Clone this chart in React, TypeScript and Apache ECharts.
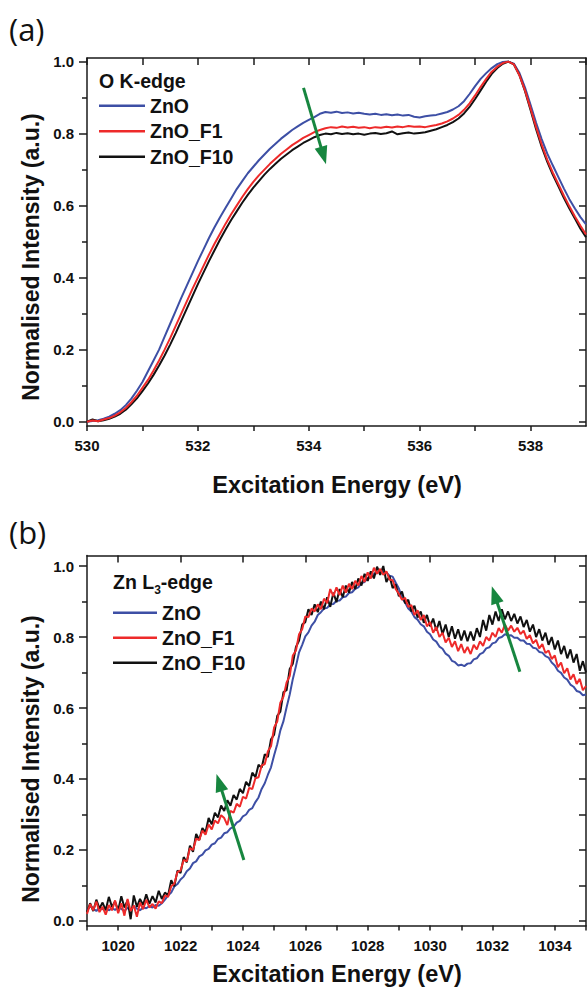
import React, { useEffect, useRef } from "react";
import * as echarts from "echarts";

// ---------- Panel (a): O K-edge ----------
const oEnergy = [
  530.0, 530.1, 530.2, 530.3, 530.4, 530.5, 530.6, 530.7, 530.8, 530.9,
  531.0, 531.1, 531.2, 531.3, 531.4, 531.5, 531.6, 531.7, 531.8, 531.9,
  532.0, 532.1, 532.2, 532.3, 532.4, 532.5, 532.6, 532.7, 532.8, 532.9,
  533.0, 533.1, 533.2, 533.3, 533.4, 533.5, 533.6, 533.7, 533.8, 533.9,
  534.0, 534.1, 534.2, 534.3, 534.4, 534.5, 534.6, 534.7, 534.8, 534.9,
  535.0, 535.1, 535.2, 535.3, 535.4, 535.5, 535.6, 535.7, 535.8, 535.9,
  536.0, 536.1, 536.2, 536.3, 536.4, 536.5, 536.6, 536.7, 536.8, 536.9,
  537.0, 537.1, 537.2, 537.3, 537.4, 537.5, 537.6, 537.7, 537.8, 537.9,
  538.0, 538.1, 538.2, 538.3, 538.4, 538.5, 538.6, 538.7, 538.8, 538.9,
  539.0,
];
const oZnO = [
  0.000, 0.002, 0.004, 0.008, 0.014, 0.022, 0.032, 0.046, 0.064, 0.086,
  0.110, 0.140, 0.170, 0.200, 0.236, 0.272, 0.308, 0.344, 0.378, 0.412,
  0.446, 0.478, 0.510, 0.540, 0.568, 0.594, 0.620, 0.646, 0.668, 0.690,
  0.708, 0.726, 0.742, 0.758, 0.772, 0.786, 0.798, 0.810, 0.820, 0.830,
  0.838, 0.846, 0.855, 0.860, 0.858, 0.861, 0.857, 0.859, 0.856, 0.858,
  0.855, 0.853, 0.855, 0.852, 0.854, 0.851, 0.853, 0.850, 0.852, 0.847,
  0.845, 0.848, 0.850, 0.852, 0.856, 0.860, 0.867, 0.876, 0.890, 0.910,
  0.932, 0.952, 0.968, 0.982, 0.993, 0.999, 1.000, 0.994, 0.968, 0.928,
  0.880, 0.830, 0.785, 0.745, 0.712, 0.680, 0.648, 0.618, 0.592, 0.568,
  0.548,
];
const oF1 = [
  0.000, 0.003, 0.001, 0.006, 0.010, 0.017, 0.026, 0.038, 0.054, 0.072,
  0.094, 0.116, 0.142, 0.170, 0.200, 0.232, 0.266, 0.300, 0.334, 0.368,
  0.400, 0.432, 0.464, 0.494, 0.522, 0.550, 0.576, 0.600, 0.624, 0.646,
  0.666, 0.684, 0.700, 0.716, 0.730, 0.744, 0.756, 0.768, 0.778, 0.788,
  0.796, 0.804, 0.810, 0.815, 0.818, 0.816, 0.820, 0.817, 0.819, 0.816,
  0.818, 0.815, 0.818, 0.816, 0.819, 0.817, 0.820, 0.818, 0.821, 0.819,
  0.820, 0.818, 0.821, 0.824, 0.828, 0.834, 0.842, 0.852, 0.866, 0.884,
  0.906, 0.930, 0.952, 0.972, 0.986, 0.996, 1.000, 0.992, 0.962, 0.920,
  0.870, 0.818, 0.770, 0.728, 0.692, 0.660, 0.628, 0.598, 0.570, 0.544,
  0.520,
];
const oF10 = [
  0.000, 0.006, 0.001, 0.004, 0.008, 0.014, 0.022, 0.033, 0.048, 0.065,
  0.085, 0.106, 0.130, 0.156, 0.184, 0.214, 0.246, 0.280, 0.314, 0.348,
  0.382, 0.414, 0.446, 0.476, 0.506, 0.534, 0.560, 0.584, 0.608, 0.630,
  0.650, 0.668, 0.686, 0.702, 0.716, 0.730, 0.742, 0.754, 0.764, 0.774,
  0.782, 0.790, 0.796, 0.800, 0.798, 0.802, 0.799, 0.801, 0.798, 0.800,
  0.797, 0.800, 0.802, 0.799, 0.801, 0.806, 0.798, 0.801, 0.803, 0.800,
  0.802, 0.804, 0.808, 0.812, 0.818, 0.824, 0.832, 0.842, 0.856, 0.874,
  0.896, 0.920, 0.944, 0.966, 0.982, 0.994, 1.000, 0.992, 0.962, 0.918,
  0.866, 0.812, 0.764, 0.722, 0.686, 0.654, 0.622, 0.592, 0.564, 0.536,
  0.512,
];

// ---------- Panel (b): Zn L3-edge ----------
const znEnergy = [
  1019.0, 1019.1, 1019.2, 1019.3, 1019.4, 1019.5, 1019.6, 1019.7, 1019.8, 1019.9,
  1020.0, 1020.1, 1020.2, 1020.3, 1020.4, 1020.5, 1020.6, 1020.7, 1020.8, 1020.9,
  1021.0, 1021.1, 1021.2, 1021.3, 1021.4, 1021.5, 1021.6, 1021.7, 1021.8, 1021.9,
  1022.0, 1022.1, 1022.2, 1022.3, 1022.4, 1022.5, 1022.6, 1022.7, 1022.8, 1022.9,
  1023.0, 1023.1, 1023.2, 1023.3, 1023.4, 1023.5, 1023.6, 1023.7, 1023.8, 1023.9,
  1024.0, 1024.1, 1024.2, 1024.3, 1024.4, 1024.5, 1024.6, 1024.7, 1024.8, 1024.9,
  1025.0, 1025.1, 1025.2, 1025.3, 1025.4, 1025.5, 1025.6, 1025.7, 1025.8, 1025.9,
  1026.0, 1026.1, 1026.2, 1026.3, 1026.4, 1026.5, 1026.6, 1026.7, 1026.8, 1026.9,
  1027.0, 1027.1, 1027.2, 1027.3, 1027.4, 1027.5, 1027.6, 1027.7, 1027.8, 1027.9,
  1028.0, 1028.1, 1028.2, 1028.3, 1028.4, 1028.5, 1028.6, 1028.7, 1028.8, 1028.9,
  1029.0, 1029.1, 1029.2, 1029.3, 1029.4, 1029.5, 1029.6, 1029.7, 1029.8, 1029.9,
  1030.0, 1030.1, 1030.2, 1030.3, 1030.4, 1030.5, 1030.6, 1030.7, 1030.8, 1030.9,
  1031.0, 1031.1, 1031.2, 1031.3, 1031.4, 1031.5, 1031.6, 1031.7, 1031.8, 1031.9,
  1032.0, 1032.1, 1032.2, 1032.3, 1032.4, 1032.5, 1032.6, 1032.7, 1032.8, 1032.9,
  1033.0, 1033.1, 1033.2, 1033.3, 1033.4, 1033.5, 1033.6, 1033.7, 1033.8, 1033.9,
  1034.0, 1034.1, 1034.2, 1034.3, 1034.4, 1034.5, 1034.6, 1034.7, 1034.8, 1034.9,
  1035.0,
];
const znZnO = [
  0.030, 0.042, 0.035, 0.028, 0.040, 0.033, 0.038, 0.030, 0.036, 0.031,
  0.039, 0.034, 0.028, 0.037, 0.032, 0.041, 0.035, 0.030, 0.038, 0.036,
  0.042, 0.038, 0.045, 0.043, 0.050, 0.060, 0.072, 0.080, 0.097, 0.104,
  0.117, 0.125, 0.140, 0.148, 0.163, 0.168, 0.182, 0.187, 0.199, 0.203,
  0.215, 0.219, 0.231, 0.235, 0.247, 0.250, 0.261, 0.265, 0.277, 0.282,
  0.295, 0.300, 0.313, 0.318, 0.335, 0.348, 0.372, 0.388, 0.412, 0.433,
  0.467, 0.498, 0.537, 0.563, 0.602, 0.638, 0.682, 0.718, 0.757, 0.778,
  0.802, 0.813, 0.832, 0.843, 0.862, 0.870, 0.880, 0.882, 0.892, 0.893,
  0.902, 0.903, 0.912, 0.914, 0.924, 0.926, 0.936, 0.940, 0.952, 0.955,
  0.966, 0.968, 0.978, 0.980, 0.989, 0.983, 0.982, 0.973, 0.970, 0.953,
  0.937, 0.910, 0.897, 0.880, 0.872, 0.856, 0.849, 0.836, 0.830, 0.815,
  0.808, 0.793, 0.787, 0.773, 0.767, 0.753, 0.747, 0.733, 0.729, 0.720,
  0.722, 0.718, 0.725, 0.726, 0.737, 0.740, 0.752, 0.756, 0.768, 0.771,
  0.782, 0.785, 0.797, 0.800, 0.808, 0.804, 0.805, 0.798, 0.798, 0.790,
  0.790, 0.781, 0.780, 0.770, 0.768, 0.758, 0.756, 0.746, 0.742, 0.728,
  0.720, 0.705, 0.699, 0.686, 0.680, 0.666, 0.660, 0.648, 0.645, 0.636,
  0.638,
];
const znF1 = [
  0.020, 0.048, 0.030, 0.055, 0.025, 0.040, 0.018, 0.045, 0.030, 0.058,
  0.022, 0.050, 0.015, 0.062, 0.028, 0.044, 0.012, 0.052, 0.033, 0.060,
  0.038, 0.048, 0.035, 0.055, 0.050, 0.072, 0.068, 0.098, 0.105, 0.138,
  0.142, 0.172, 0.168, 0.205, 0.200, 0.232, 0.228, 0.255, 0.243, 0.272,
  0.258, 0.283, 0.275, 0.298, 0.290, 0.270, 0.310, 0.305, 0.330, 0.322,
  0.350, 0.345, 0.375, 0.372, 0.402, 0.405, 0.438, 0.442, 0.478, 0.492,
  0.545, 0.562, 0.615, 0.632, 0.672, 0.690, 0.748, 0.762, 0.808, 0.822,
  0.858, 0.856, 0.880, 0.872, 0.892, 0.878, 0.908, 0.895, 0.935, 0.915,
  0.940, 0.918, 0.945, 0.925, 0.950, 0.935, 0.958, 0.945, 0.972, 0.955,
  0.982, 0.965, 0.995, 0.978, 0.992, 0.975, 0.985, 0.962, 0.960, 0.935,
  0.922, 0.905, 0.910, 0.885, 0.890, 0.862, 0.875, 0.848, 0.862, 0.830,
  0.842, 0.812, 0.828, 0.800, 0.812, 0.785, 0.798, 0.772, 0.788, 0.760,
  0.780, 0.755, 0.772, 0.752, 0.778, 0.765, 0.788, 0.775, 0.800, 0.790,
  0.812, 0.800, 0.825, 0.812, 0.835, 0.818, 0.832, 0.815, 0.826, 0.808,
  0.818, 0.795, 0.805, 0.782, 0.792, 0.768, 0.780, 0.755, 0.762, 0.738,
  0.748, 0.715, 0.728, 0.698, 0.712, 0.680, 0.695, 0.668, 0.682, 0.650,
  0.662,
];
const znF10 = [
  0.025, 0.050, 0.028, 0.060, 0.035, 0.052, 0.030, 0.068, 0.040, 0.055,
  0.030, 0.070, 0.038, 0.058, 0.005, 0.072, 0.040, 0.062, 0.045, 0.075,
  0.048, 0.070, 0.052, 0.085, 0.062, 0.080, 0.072, 0.115, 0.098, 0.142,
  0.135, 0.180, 0.165, 0.212, 0.195, 0.245, 0.228, 0.262, 0.250, 0.290,
  0.272, 0.305, 0.292, 0.325, 0.310, 0.340, 0.325, 0.355, 0.342, 0.372,
  0.360, 0.392, 0.380, 0.418, 0.405, 0.440, 0.432, 0.470, 0.462, 0.512,
  0.525, 0.578, 0.590, 0.645, 0.650, 0.710, 0.725, 0.772, 0.790, 0.835,
  0.842, 0.878, 0.862, 0.892, 0.870, 0.900, 0.878, 0.912, 0.885, 0.925,
  0.898, 0.935, 0.912, 0.945, 0.925, 0.955, 0.935, 0.965, 0.945, 0.978,
  0.958, 0.985, 0.965, 0.998, 0.975, 1.000, 0.955, 0.972, 0.938, 0.948,
  0.915, 0.928, 0.895, 0.905, 0.872, 0.888, 0.855, 0.872, 0.840, 0.862,
  0.830, 0.852, 0.818, 0.845, 0.808, 0.835, 0.800, 0.830, 0.795, 0.822,
  0.790, 0.818, 0.788, 0.815, 0.790, 0.825, 0.800, 0.848, 0.818, 0.862,
  0.835, 0.872, 0.845, 0.878, 0.850, 0.872, 0.845, 0.865, 0.838, 0.858,
  0.828, 0.848, 0.815, 0.835, 0.800, 0.822, 0.790, 0.812, 0.778, 0.800,
  0.765, 0.790, 0.752, 0.775, 0.740, 0.765, 0.728, 0.752, 0.705, 0.732,
  0.700,
];

// ---------- ticks / labels ----------
const oXTicks = [530, 531, 532, 533, 534, 535, 536, 537, 538];
const oXLabels = [530, 532, 534, 536, 538];
const oXTopTicks = [530, 531, 532, 533, 534, 535, 536, 537, 538, 539];
const znXTicks = [1019, 1020, 1021, 1022, 1023, 1024, 1025, 1026, 1027, 1028, 1029, 1030, 1031, 1032, 1033, 1034, 1035];
const znXLabels = [1020, 1022, 1024, 1026, 1028, 1030, 1032, 1034];
const znXTopTicks = [1020, 1022, 1024, 1026, 1028, 1030, 1032, 1034];
const yMajor = [0, 0.2, 0.4, 0.6, 0.8, 1.0];
const yMinor = [0.1, 0.3, 0.5, 0.7, 0.9];
const yAll = [0, 0.1, 0.2, 0.3, 0.4, 0.5, 0.6, 0.7, 0.8, 0.9, 1.0];

const seriesNames = ["ZnO", "ZnO_F1", "ZnO_F10"];
const seriesColors = ["#3d4fa5", "#ee2a2a", "#111111"];

// arrows: [tail, head] in data coordinates
const oArrows = [[[533.905, 0.927], [534.265, 0.739]]];
const znArrows = [
  [[1024.03, 0.172], [1023.24, 0.39]],
  [[1032.88, 0.702], [1032.07, 0.919]],
];

const FONT = "'Liberation Sans', Arial, Helvetica, sans-serif";
const AXIS_COLOR = "#1a1a1a";
const ARROW_COLOR = "#17863f";

function xAxesFor(grid: number, min: number, max: number, ticks: number[], labels: number[], topTicks: number[]) {
  return [
    {
      type: "value", gridIndex: grid, position: "bottom", min, max,
      axisLine: { show: true, onZero: false, lineStyle: { color: AXIS_COLOR, width: 1.5 } },
      axisTick: { show: true, inside: false, length: 5, customValues: ticks, lineStyle: { color: AXIS_COLOR, width: 1.5 } },
      axisLabel: {
        show: true, customValues: labels, margin: 12, color: "#111", fontFamily: FONT, fontWeight: "bold", fontSize: 15,
        formatter: (v: number) => String(v),
      },
      splitLine: { show: false },
    },
    {
      type: "value", gridIndex: grid, position: "top", min, max,
      axisLine: { show: true, onZero: false, lineStyle: { color: AXIS_COLOR, width: 1.5 } },
      axisTick: { show: true, inside: true, length: 7, customValues: topTicks, lineStyle: { color: AXIS_COLOR, width: 1.5 } },
      axisLabel: { show: false },
      splitLine: { show: false },
    },
  ];
}

function yAxesFor(grid: number, min: number, max: number) {
  return [
    {
      type: "value", gridIndex: grid, position: "left", min, max,
      axisLine: { show: true, onZero: false, lineStyle: { color: AXIS_COLOR, width: 1.5 } },
      axisTick: { show: true, inside: false, length: 8, customValues: yMajor, lineStyle: { color: AXIS_COLOR, width: 1.5 } },
      axisLabel: {
        show: true, customValues: yMajor, margin: 13, color: "#111", fontFamily: FONT, fontWeight: "bold", fontSize: 15,
        formatter: (v: number) => v.toFixed(1),
      },
      splitLine: { show: false },
    },
    {
      type: "value", gridIndex: grid, position: "left", min, max,
      axisLine: { show: false },
      axisTick: { show: true, inside: false, length: 5, customValues: yMinor, lineStyle: { color: AXIS_COLOR, width: 1.5 } },
      axisLabel: { show: false },
      splitLine: { show: false },
    },
    {
      type: "value", gridIndex: grid, position: "right", min, max,
      axisLine: { show: true, onZero: false, lineStyle: { color: AXIS_COLOR, width: 1.5 } },
      axisTick: { show: true, inside: true, length: 7, customValues: yAll, lineStyle: { color: AXIS_COLOR, width: 1.5 } },
      axisLabel: { show: false },
      splitLine: { show: false },
    },
  ];
}

function arrowMarkLine(arrows: number[][][]) {
  return {
    silent: true,
    animation: false,
    label: { show: false },
    emphasis: { disabled: true },
    lineStyle: { color: ARROW_COLOR, width: 3, type: "solid" },
    data: arrows.map((a) => [
      { coord: a[0], symbol: "none" },
      { coord: a[1], symbol: "triangle", symbolSize: [13, 18] },
    ]),
  };
}

function lineSeries(name: string, color: string, xs: number[], ys: number[], xi: number, yi: number, z: number, markLine?: any) {
  const s: any = {
    type: "line",
    name,
    xAxisIndex: xi,
    yAxisIndex: yi,
    data: xs.map((x, i) => [x, ys[i]]),
    symbol: "none",
    showSymbol: false,
    lineStyle: { color, width: 2 },
    itemStyle: { color },
    z,
    silent: true,
  };
  if (markLine) s.markLine = markLine;
  return s;
}

const legendText = { color: "#111", fontFamily: FONT, fontWeight: "bold", fontSize: 19.5, lineHeight: 20 };

export default function App() {
  const ref = useRef<HTMLDivElement>(null);
  useEffect(() => {
    if (!ref.current) return;
    const chart = echarts.init(ref.current, undefined, { renderer: "svg" });
    const option: any = {
      animation: false,
      backgroundColor: "#ffffff",
      grid: [
        { left: 87, top: 58, width: 499, height: 368 },
        { left: 87, top: 555.5, width: 499, height: 370 },
      ],
      xAxis: [
        ...xAxesFor(0, 530, 539, oXTicks, oXLabels, oXTopTicks),
        ...xAxesFor(1, 1019, 1035, znXTicks, znXLabels, znXTopTicks),
      ],
      yAxis: [...yAxesFor(0, -0.012, 1.01), ...yAxesFor(1, -0.0127, 1.0296)],
      legend: [
        {
          data: seriesNames, orient: "vertical", left: 99, top: 95.7, icon: "rect", itemWidth: 46, itemHeight: 2.5, itemGap: 5.5,
          padding: 0, textStyle: legendText, selectedMode: false,
        },
        {
          data: seriesNames, orient: "vertical", left: 113, top: 602.7, icon: "rect", itemWidth: 44, itemHeight: 2.5, itemGap: 5,
          padding: 0, textStyle: legendText, selectedMode: false,
        },
      ],
      series: [
        lineSeries(seriesNames[0], seriesColors[0], oEnergy, oZnO, 0, 0, 2),
        lineSeries(seriesNames[2], seriesColors[2], oEnergy, oF10, 0, 0, 3),
        lineSeries(seriesNames[1], seriesColors[1], oEnergy, oF1, 0, 0, 4, arrowMarkLine(oArrows)),
        lineSeries(seriesNames[0], seriesColors[0], znEnergy, znZnO, 2, 3, 2),
        lineSeries(seriesNames[2], seriesColors[2], znEnergy, znF10, 2, 3, 3),
        lineSeries(seriesNames[1], seriesColors[1], znEnergy, znF1, 2, 3, 4, arrowMarkLine(znArrows)),
      ],
      graphic: [
        { type: "text", x: 9, y: 28.5, style: { text: "(a)", fill: "#111", font: "normal 31px 'Open Sans', 'Noto Sans', sans-serif", align: "left", verticalAlign: "middle" } },
        { type: "text", x: 9, y: 532, style: { text: "(b)", fill: "#111", font: "normal 31px 'Open Sans', 'Noto Sans', sans-serif", align: "left", verticalAlign: "middle" } },
        { type: "text", x: 31, y: 257, rotation: Math.PI / 2, style: { text: "Normalised Intensity (a.u.)", fill: "#111", font: `bold 23px ${FONT}`, align: "center", verticalAlign: "middle" } },
        { type: "text", x: 31, y: 759, rotation: Math.PI / 2, style: { text: "Normalised Intensity (a.u.)", fill: "#111", font: `bold 23px ${FONT}`, align: "center", verticalAlign: "middle" } },
        { type: "text", x: 337, y: 485, style: { text: "Excitation Energy (eV)", fill: "#111", font: `bold 23.5px ${FONT}`, align: "center", verticalAlign: "middle" } },
        { type: "text", x: 337, y: 974, style: { text: "Excitation Energy (eV)", fill: "#111", font: `bold 23.5px ${FONT}`, align: "center", verticalAlign: "middle" } },
        { type: "text", x: 99, y: 80.5, style: { text: "O K-edge", fill: "#111", font: `bold 19.5px ${FONT}`, align: "left", verticalAlign: "middle" } },
        {
          type: "text", x: 113, y: 583.5,
          style: {
            text: "{n|Zn L}{s|3}{n|-edge}", fill: "#111", align: "left", verticalAlign: "middle",
            rich: {
              n: { fontFamily: FONT, fontWeight: "bold", fontSize: 19.5, lineHeight: 24, verticalAlign: "top", fill: "#111" },
              s: { fontFamily: FONT, fontWeight: "bold", fontSize: 12, lineHeight: 10, verticalAlign: "bottom", fill: "#111" },
            },
          },
        },
      ],
    };
    chart.setOption(option);
    return () => chart.dispose();
  }, []);
  return <div ref={ref} style={{ position: "absolute", left: 0, top: 0, width: 587, height: 988 }} />;
}
